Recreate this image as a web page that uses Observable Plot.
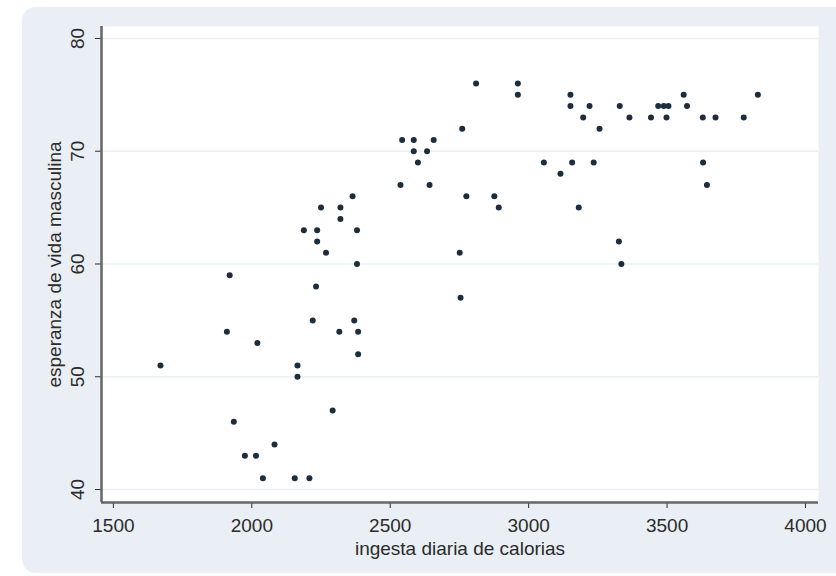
<!DOCTYPE html>
<html>
<head>
<meta charset="utf-8">
<script src="https://cdn.jsdelivr.net/npm/d3@7"></script>
<script src="https://cdn.jsdelivr.net/npm/@observablehq/plot@0.6"></script>
<style>
  html, body { margin: 0; padding: 0; background: #ffffff; }
  #wrap { position: relative; width: 836px; height: 576px; overflow: hidden; font-family: "Liberation Sans", Arial, sans-serif; }
  #panel { position: absolute; left: 22px; top: 7px; width: 840px; height: 566px; background: #e9eff4; border-radius: 14px; }
  #chart { position: absolute; left: 0; top: 0; }
</style>
</head>
<body>
<div id="wrap"><div id="panel"></div><div id="chart"></div></div>
<script>
// Daily calorie intake (x) vs male life expectancy (y)
const calories = [
  1670, 1910, 1920, 1935, 1975, 2015, 2020, 2040, 2082, 2155,
  2165, 2165, 2188, 2208, 2220, 2232, 2236, 2236, 2250, 2268,
  2292, 2316, 2320, 2320, 2364, 2370, 2380, 2380, 2384, 2384,
  2537, 2543, 2585, 2585, 2600, 2633, 2642, 2657, 2751, 2754,
  2760, 2775, 2810, 2876, 2892, 2961, 2961, 3055, 3115, 3151,
  3151, 3157, 3181, 3197, 3220, 3235, 3256, 3326, 3329, 3335,
  3364, 3442, 3468, 3488, 3505, 3498, 3560, 3572, 3629, 3630,
  3644, 3675, 3777, 3828
];
const lifeExpMale = [
  51, 54, 59, 46, 43, 43, 53, 41, 44, 41,
  51, 50, 63, 41, 55, 58, 63, 62, 65, 61,
  47, 54, 65, 64, 66, 55, 63, 60, 54, 52,
  67, 71, 71, 70, 69, 70, 67, 71, 61, 57,
  72, 66, 76, 66, 65, 76, 75, 69, 68, 75,
  74, 69, 65, 73, 74, 69, 72, 62, 74, 60,
  73, 73, 74, 74, 74, 73, 75, 74, 73, 69,
  67, 73, 73, 75
];
const xTicks = [1500, 2000, 2500, 3000, 3500, 4000];
const yTicks = [40, 50, 60, 70, 80];
const xTitle = "ingesta diaria de calorias";
const yTitle = "esperanza de vida masculina";

const xDomain = [1457, 4047];
const yDomain = [38.85, 81.06];

const data = calories.map((c, i) => ({x: c, y: lifeExpMale[i]}));

const textColor = "#2b2b2b";
const fmt = d3.format("d");
const chart = Plot.plot({
  width: 836,
  height: 576,
  marginLeft: 101,
  marginRight: 18,
  marginTop: 26,
  marginBottom: 74,
  style: {background: "transparent", color: textColor, fontFamily: "'Liberation Sans', Arial, sans-serif"},
  x: {domain: xDomain},
  y: {domain: yDomain},
  marks: [
    Plot.frame({fill: "white", stroke: null}),
    Plot.gridY(yTicks, {stroke: "#eaf0f4", strokeOpacity: 1, strokeWidth: 1.5}),
    Plot.axisX({ticks: xTicks, tickSize: 6, tickPadding: 10, tickFormat: fmt, fontSize: 19, label: null}),
    Plot.axisY({ticks: yTicks, tickSize: 6, tickPadding: 12, tickRotate: -90, tickFormat: fmt, fontSize: 19, label: null}),
    Plot.text([yTitle], {text: d => d, frameAnchor: "left", dx: -41, rotate: -90, textAnchor: "middle", lineAnchor: "bottom", fontSize: 19, fill: textColor}),
    Plot.text([xTitle], {text: d => d, frameAnchor: "bottom", dy: 52, textAnchor: "middle", lineAnchor: "bottom", fontSize: 19, fill: textColor}),
    Plot.ruleX([xDomain[0]], {stroke: "#666", strokeWidth: 2.5}),
    Plot.ruleY([yDomain[0]], {stroke: "#666", strokeWidth: 2.5}),
    Plot.dot(data, {x: "x", y: "y", r: 3, fill: "#1e2d3d", stroke: null})
  ]
});
document.getElementById("chart").appendChild(chart);
</script>
</body>
</html>
